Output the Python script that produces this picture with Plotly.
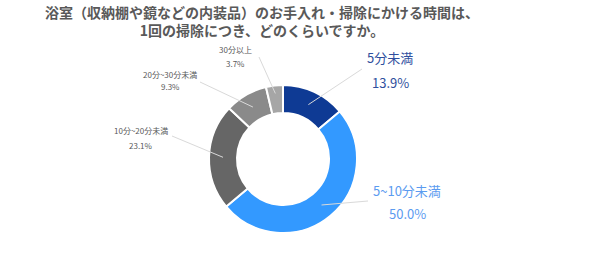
import math
import plotly.graph_objects as go

categories = ["5分未満", "5~10分未満", "10分~20分未満", "20分~30分未満", "30分以上"]
values = [13.9, 50.0, 23.1, 9.3, 3.7]
colors = ["#0E3A94", "#3399FF", "#666666", "#8A8A8A", "#A6A6A6"]
label_colors = ["#2F4F9E", "#5B9BF0", "#595959", "#595959", "#595959"]
label_sizes = [13, 13, 8, 8, 8]
# label anchor (px) for each category: (x, y_name, y_pct)
label_pos = [(390, 58, 82), (407, 190, 213), (141, 130, 145), (170, 74, 87), (235, 50, 63)]
line_ends = [(362, 69), (368, 201), (172, 136), (200, 82), (259, 57)]

W, H = 598, 260
cx, cy, R, r_in = 283, 159, 74, 46

fig = go.Figure(go.Pie(
    labels=categories, values=values, sort=False, direction="clockwise", rotation=0,
    hole=r_in / R, marker=dict(colors=colors, line=dict(color="white", width=2)),
    textinfo="none", hoverinfo="label+percent",
    domain=dict(x=[(cx - R) / W, (cx + R) / W], y=[1 - (cy + R) / H, 1 - (cy - R) / H]),
))

total = sum(values)
cum = 0
annotations = []
shapes = []
for i, (cat, v) in enumerate(zip(categories, values)):
    mid = (cum + v / 2) / total * 2 * math.pi
    cum += v
    rr = (R + r_in) / 2 + (6 if i == 4 else 0)
    sx, sy = cx + rr * math.sin(mid), cy - rr * math.cos(mid)
    ex, ey = line_ends[i]
    shapes.append(dict(type="line", xref="paper", yref="paper",
                       x0=sx / W, y0=1 - sy / H, x1=ex / W, y1=1 - ey / H,
                       line=dict(color="#D9D9D9", width=1)))
    lx, ly1, ly2 = label_pos[i]
    f = dict(family="Noto Sans CJK JP", size=label_sizes[i], color=label_colors[i])
    annotations.append(dict(x=lx / W, y=1 - ly1 / H, xref="paper", yref="paper",
                            text=cat, showarrow=False, font=f, xanchor="center", yanchor="middle"))
    annotations.append(dict(x=lx / W, y=1 - ly2 / H, xref="paper", yref="paper",
                            text=f"{v:.1f}%", showarrow=False, font=f, xanchor="center", yanchor="middle"))

annotations.append(dict(x=262 / W, y=1 - 21 / H, xref="paper", yref="paper", showarrow=False,
                        text="<b>浴室（収納棚や鏡などの内装品）のお手入れ・掃除にかける時間は、<br>1回の掃除につき、どのくらいですか。</b>",
                        font=dict(family="Noto Sans CJK JP", size=14, color="#595959"),
                        xanchor="center", yanchor="middle", align="center"))

fig.update_layout(width=W, height=H, margin=dict(l=0, r=0, t=0, b=0),
                  paper_bgcolor="white", plot_bgcolor="white", showlegend=False,
                  annotations=annotations, shapes=shapes)
fig.write_html("out.html")
